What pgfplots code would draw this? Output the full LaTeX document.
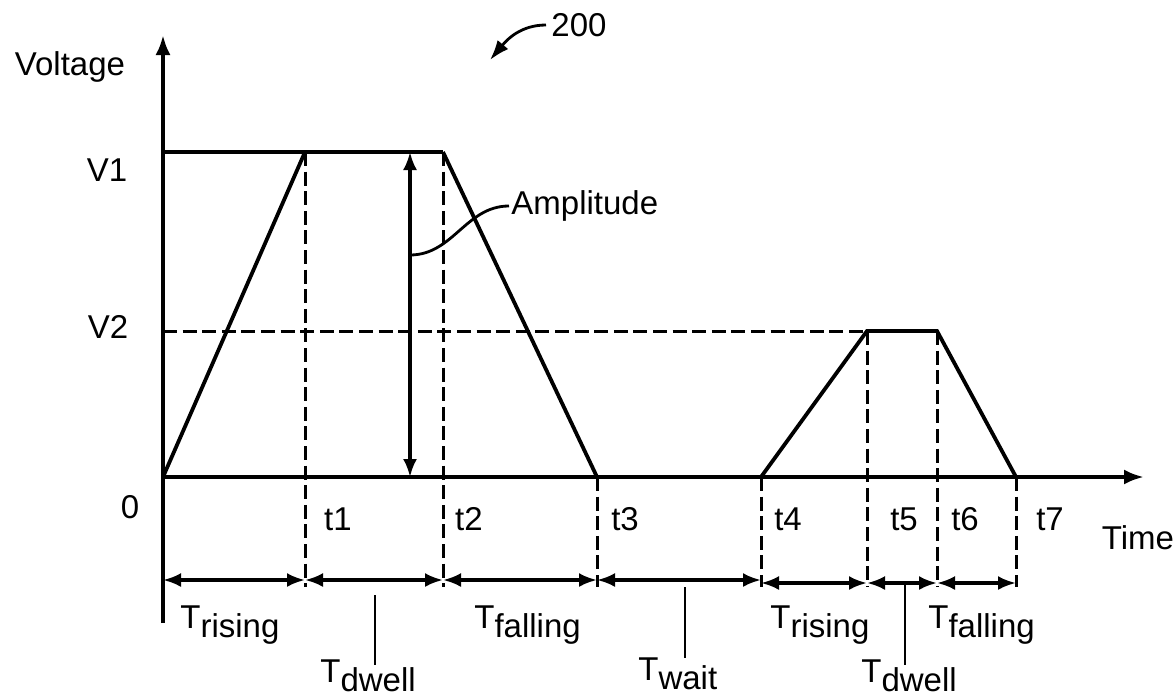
\documentclass[border=0pt]{standalone}
\usepackage{fontspec}
\setmainfont{Liberation Sans}
\usepackage{pgfplots}
\pgfplotsset{compat=1.18}
\usetikzlibrary{arrows.meta}
\newcommand\Tsub[1]{T\raisebox{-4.5pt}{#1}}
\begin{document}
\begin{tikzpicture}[font=\fontsize{16.5}{19}\selectfont]
\begin{axis}[x=0.5pt,y=0.5pt, xmin=-163,xmax=1013,ymin=-221,ymax=477,
  hide axis, clip=false,
  solid line/.style={black, line width=1.9pt},
  dash line/.style={black, line width=1.5pt, dash pattern=on 7pt off 2.8pt},
  dim line/.style={black, line width=1.6pt, arrows={Latex[length=9pt,width=7pt]-Latex[length=9pt,width=7pt]}}]
% axes
\addplot[solid line, arrows={-Latex[length=10pt,width=7.5pt]}] coordinates {(0,-146) (0,442)};
\addplot[solid line, arrows={-Latex[length=10pt,width=7.5pt]}] coordinates {(0,0) (981,0)};
% waveform
\addplot[solid line] coordinates {(0,325) (280,325)};
\addplot[solid line] coordinates {(0,0) (142,325)};
\addplot[solid line] coordinates {(280,325) (434,0)};
\addplot[solid line] coordinates {(598,0) (704,146) (774,146) (853,0)};
% dashed references
\addplot[dash line] coordinates {(0,146) (704,146)};
\addplot[dash line] coordinates {(142,325) (142,-110)};
\addplot[dash line] coordinates {(280,325) (280,-110)};
\addplot[dash line] coordinates {(434,0) (434,-110)};
\addplot[dash line] coordinates {(598,0) (598,-110)};
\addplot[dash line] coordinates {(704,146) (704,-110)};
\addplot[dash line] coordinates {(774,146) (774,-110)};
\addplot[dash line] coordinates {(853,0) (853,-110)};
% amplitude arrow
\addplot[dim line] coordinates {(247,0) (247,325)};
% dimension arrows
\addplot[dim line] coordinates {(0,-103) (142,-103)};
\addplot[dim line] coordinates {(142,-103) (280,-103)};
\addplot[dim line] coordinates {(280,-103) (434,-103)};
\addplot[dim line] coordinates {(434,-103) (598,-103)};
\addplot[dim line] coordinates {(598,-106) (704,-106)};
\addplot[dim line] coordinates {(704,-106) (774,-106)};
\addplot[dim line] coordinates {(774,-106) (853,-106)};
% leaders
\addplot[black, line width=1.4pt] coordinates {(212,-118) (212,-188)};
\addplot[black, line width=1.4pt] coordinates {(522,-110) (522,-181)};
\addplot[black, line width=1.4pt] coordinates {(742,-108) (742,-188)};
\draw[black, line width=1.4pt] (axis cs:247,222) to[out=0,in=180] (axis cs:346,271);
\draw[black, line width=1.4pt, arrows={-Latex[length=10pt,width=7pt]}] (axis cs:383,452) to[out=180,in=50] (axis cs:327,417);
% labels
\node at (axis cs:-93,410) {Voltage};
\node at (axis cs:-56,307) {V1};
\node at (axis cs:-55,150) {V2};
\node at (axis cs:-33,-30) {0};
\node at (axis cs:175,-42) {t1};
\node at (axis cs:306,-42) {t2};
\node at (axis cs:462,-42) {t3};
\node at (axis cs:625,-42) {t4};
\node at (axis cs:741,-42) {t5};
\node at (axis cs:802,-42) {t6};
\node at (axis cs:887,-42) {t7};
\node at (axis cs:975,-61) {Time};
\node[anchor=west, inner sep=0pt] at (axis cs:348,271) {Amplitude};
\node[anchor=west, inner sep=0pt] at (axis cs:388,452) {200};
\node[anchor=base west, inner sep=0pt] at (axis cs:17,-151) {\Tsub{rising}};
\node[anchor=base west, inner sep=0pt] at (axis cs:311,-151) {\Tsub{falling}};
\node[anchor=base west, inner sep=0pt] at (axis cs:157,-205) {\Tsub{dwell}};
\node[anchor=base west, inner sep=0pt] at (axis cs:475,-203) {\Tsub{wait}};
\node[anchor=base west, inner sep=0pt] at (axis cs:607,-151) {\Tsub{rising}};
\node[anchor=base west, inner sep=0pt] at (axis cs:698,-205) {\Tsub{dwell}};
\node[anchor=base west, inner sep=0pt] at (axis cs:765,-151) {\Tsub{falling}};
\coordinate (BL) at (axis cs:-163,-221);
\coordinate (TR) at (axis cs:1013,477);
\end{axis}
\pgfresetboundingbox
\path (BL) rectangle (TR);
\end{tikzpicture}
\end{document}
